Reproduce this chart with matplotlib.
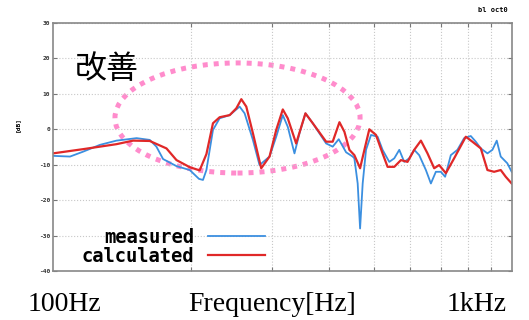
import matplotlib.pyplot as plt
from matplotlib.patches import Ellipse

# measured (blue) response
meas_f = [100, 108.9, 116.4, 126.5, 137.5, 152.1, 162.5, 168.0, 173.7, 185.8, 198.6, 208, 212.2,
          215.9, 223.1, 230.7, 242.6, 255.0, 261.5, 272.6, 281.8, 296.3, 306.4, 316.7, 324.7,
          335.8, 344.4, 354.8, 368.1, 393.6, 406.8, 419.3, 435.1, 449.7, 453.5, 461.1, 466.7,
          472.8, 480.8, 493.0, 509.6, 522.4, 540.3, 554.0, 568.1, 582.4, 597.1, 612.3, 627.8,
          649.2, 665.7, 682.5, 699.8, 715.0, 735.7, 760.5, 786.5, 813.2, 833.9, 855.1, 884.0,
          906.4, 926.4, 945.0, 976.8, 998.4]
meas_db = [-7.5, -7.7, -6.3, -4.4, -3.2, -2.5, -3.0, -4.9, -8.4, -10.4, -11.5, -14.0, -14.3,
           -11.5, -0.2, 3.1, 4.0, 6.4, 4.5, -3.0, -10.1, -7.7, -2.1, 4.0, 0.7,
           -6.8, -1.1, 4.5, 1.7, -4.0, -4.9, -2.8, -6.5, -7.7, -8.2, -15.3, -28.0,
           -15.3, -5.8, -1.6, -2.1, -5.8, -9.2, -8.2, -5.8, -9.2, -8.2, -5.8, -7.3,
           -11.5, -15.3, -12.0, -12.0, -13.4, -7.3, -5.8, -2.5, -1.9, -3.5, -5.4, -6.8,
           -5.8, -3.2, -7.7, -9.6, -12.0]

# calculated (red) response
calc_f = [100, 116.4, 137.5, 149.5, 162.5, 176.7, 185.8, 198.6, 208.7, 215.9, 223.1, 230.7,
          242.6, 250.8, 257.2, 263.7, 272.6, 284.2, 296.3, 306.4, 316.7, 324.7, 338.6, 354.8,
          368.1, 393.6, 406.8, 420.8, 431.4, 442.3, 453.5, 466.7, 476.9, 488.8, 505.5, 522.4,
          535.7, 554.0, 572.8, 592.1, 612.3, 633.2, 654.5, 676.8, 693.9, 717.6, 748.0, 793.1,
          819.8, 855.1, 884.0, 914.1, 945.0, 969.0, 998.4]
calc_db = [-6.8, -5.6, -4.2, -3.2, -3.3, -5.4, -8.7, -10.7, -11.6, -7.0, 1.7, 3.4,
           4.0, 5.9, 8.5, 6.4, -1.1, -11.0, -7.7, -0.2, 5.6, 3.1, -4.0, 4.5,
           1.7, -3.5, -3.5, 2.0, -0.7, -5.8, -7.3, -11.0, -5.8, 0.0, -1.6, -6.8,
           -10.6, -10.6, -8.7, -9.2, -5.8, -3.2, -6.8, -11.0, -10.1, -12.4, -8.2, -2.1,
           -3.5, -5.4, -11.5, -12.0, -11.5, -13.4, -15.3]

y_ticks = [-40, -30, -20, -10, 0, 10, 20, 30]
x_grid = [200, 300, 400, 500, 600, 700, 800, 900]

fig = plt.figure(figsize=(5.29, 3.2), dpi=100)
ax = fig.add_axes([53/529, 49/320, 459/529, 248/320])

ax.plot(meas_f, meas_db, c='#3b8fe0', lw=1.3, label='measured')
ax.plot(calc_f, calc_db, c='#e02828', lw=1.6, label='calculated')

ax.set_xscale('log')
ax.set_xlim(100, 1000)
ax.set_ylim(-40, 30)
ax.set_yticks(y_ticks)
ax.set_yticklabels([str(v) for v in y_ticks], fontsize=4.5, fontweight='bold',
                   family='DejaVu Sans Mono', color='#333333')
ax.set_xticks(x_grid)
ax.set_xticklabels([])
ax.xaxis.set_minor_locator(plt.NullLocator())
ax.tick_params(direction='in', length=3, width=0.8, color='#777777',
               top=True, right=True, pad=2)
ax.grid(True, ls=':', lw=0.8, color='#c8c8c8')
for s in ax.spines.values():
    s.set_color('#888888')
    s.set_linewidth(1.2)

leg = ax.legend(loc='upper left', bbox_to_anchor=(0.063, 0.175), frameon=False,
                markerfirst=False, handlelength=3.0, handletextpad=0.75,
                labelspacing=0.0, borderpad=0, borderaxespad=0,
                prop={'family': 'DejaVu Sans Mono', 'weight': 'bold', 'size': 13.5})

# pink dotted ellipse
ell = Ellipse((0.402, 0.617), 0.534, 0.444, transform=ax.transAxes, fill=False,
              ec='#ff8ccc', lw=3.6, ls=(0, (1, 1.2)), clip_on=False)
ax.add_patch(ell)

fig.text(107/529, 1 - 69/320, '改善', fontsize=23, family=['Noto Sans CJK JP', 'DejaVu Sans'],
         ha='center', va='center')
fig.text(17/529, 1 - 125/320, '[dB]', fontsize=4.5, fontweight='bold', family='DejaVu Sans Mono',
         rotation=90, ha='center', va='center')
fig.text(493/529, 1 - 10/320, 'bl oct0', fontsize=5, fontweight='bold', family='DejaVu Sans Mono',
         ha='center', va='center')

fig.text(64/529, 1 - 311/320, '100Hz', fontsize=20, family='Liberation Serif', ha='center', va='baseline')
fig.text(272/529, 1 - 311/320, 'Frequency[Hz]', fontsize=20, family='Liberation Serif', ha='center', va='baseline')
fig.text(477/529, 1 - 311/320, '1kHz', fontsize=20, family='Liberation Serif', ha='center', va='baseline')

fig.savefig('out.png', dpi=100)
